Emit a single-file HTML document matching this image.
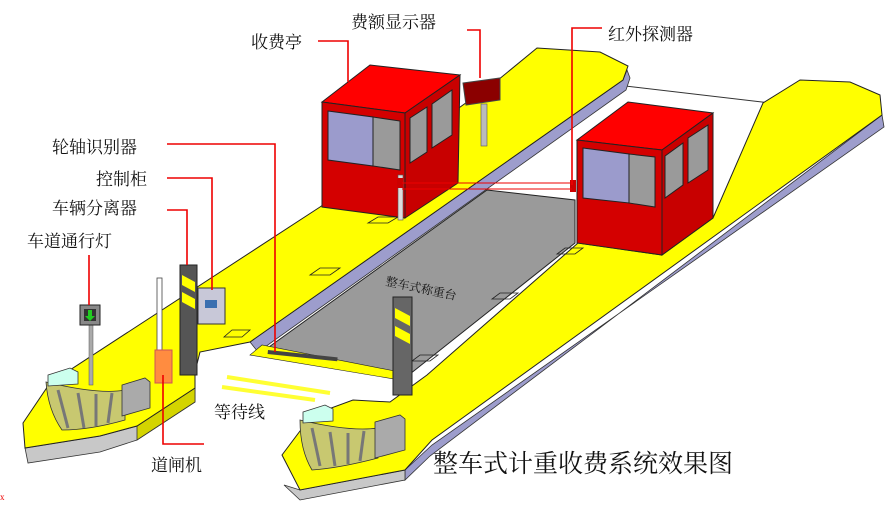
<!DOCTYPE html>
<html><head><meta charset="utf-8"><style>
html,body{margin:0;padding:0;background:#fff;}
svg{display:block}
text{font-family:"Liberation Serif","Noto Serif CJK SC","Noto Sans CJK SC",serif;fill:#111;}
</style></head><body>
<svg width="887" height="512" viewBox="0 0 887 512" xmlns="http://www.w3.org/2000/svg">
<line x1="600" y1="83" x2="770" y2="103" stroke="#333" stroke-width="1"/>
<!-- LEFT ISLAND side faces -->
<polygon points="623,80 627,70 630,78 626,90 258,352 250,342" fill="#9d9dcc" stroke="#333" stroke-width="0.8"/>
<polygon points="25,448 100,436 137,426 195,388 195,402 137,440 100,452 28,463" fill="#c8c8c8" stroke="#333" stroke-width="0.8"/>
<polygon points="137,426 195,388 195,402 137,440" fill="#d4d400" stroke="#333" stroke-width="0.8"/>
<!-- LEFT ISLAND top -->
<polygon points="23,423 50,383 320,207 498,80 537,48 600,52 628,66 623,80 250,342 200,352 195,372 195,388 137,426 100,436 25,448" fill="#ffff00" stroke="#222" stroke-width="1"/>
<!-- grey scale platform -->
<polygon points="262,352 487,190 575,200 575,243 410,374" fill="#9a9a9a" stroke="#222" stroke-width="1"/>
<polygon points="250,355 262,345 410,374 400,380" fill="#ffff00" stroke="#222" stroke-width="0.6"/>
<rect x="268" y="350" width="70" height="4" fill="#444" transform="rotate(6 268 350)"/>
<text x="385" y="285" font-size="12" fill="#222" transform="rotate(12 385 285)">整车式称重台</text>
<!-- RIGHT ISLAND side -->
<polygon points="882,115 884,127 432,445 405,470 405,480 430,456" fill="#9d9dcc" stroke="#333" stroke-width="0.8"/>
<polygon points="284,485 300,500 405,480 405,470 300,490" fill="#c8c8c8" stroke="#333" stroke-width="0.8"/>
<!-- RIGHT ISLAND top -->
<polygon points="282,455 312,415 353,400 390,402 427,375 578,243 662,255 713,218 763,103 800,80 850,82 880,95 882,115 432,440 405,470 300,490" fill="#ffff00" stroke="#222" stroke-width="1"/>
<g fill="none" stroke="#222" stroke-width="0.8">
<polygon points="378,217 398,217 388,223 368,223"/>
<polygon points="320,268 340,268 330,275 310,275"/>
<polygon points="232,330 250,330 242,337 224,337"/>
<polygon points="565,248 583,248 575,254 557,254"/>
<polygon points="500,293 518,293 510,299 492,299"/>
<polygon points="420,355 438,355 430,361 412,361"/>
</g>
<line x1="227" y1="377" x2="330" y2="393" stroke="#ffff33" stroke-width="4"/>
<line x1="222" y1="387" x2="315" y2="400" stroke="#ffff33" stroke-width="4"/>
<!-- BOOTH 1 -->
<polygon points="322,102 370,65 460,75 405,113" fill="#ff0000" stroke="#222"/>
<polygon points="322,102 405,113 405,218 322,207" fill="#d40000" stroke="#222"/>
<polygon points="405,113 460,75 458,183 405,218" fill="#c80000" stroke="#222"/>
<polygon points="328,111 373,117 373,166 328,160" fill="#9b9bcc" stroke="#222"/>
<polygon points="373,117 400,121 400,170 373,166" fill="#9a9a9a" stroke="#222"/>
<polygon points="410,118 427,107 427,152 410,163" fill="#9a9a9a" stroke="#222"/>
<polygon points="432,104 452,90 452,135 432,148" fill="#9a9a9a" stroke="#222"/>
<rect x="398" y="175" width="5" height="45" fill="#ddd" stroke="#555" stroke-width="0.6"/>
<rect x="397" y="178" width="6" height="10" fill="#c00"/>
<polygon points="463,83 500,78 500,100 466,105" fill="#8b0000" stroke="#444"/>
<rect x="481" y="104" width="6" height="42" fill="#bbb" stroke="#555" stroke-width="0.6"/>
<!-- BOOTH 2 -->
<polygon points="577,140 628,102 713,113 662,150" fill="#ff0000" stroke="#222"/>
<polygon points="577,140 662,150 662,255 577,243" fill="#d40000" stroke="#222"/>
<polygon points="662,150 713,113 713,218 662,255" fill="#c80000" stroke="#222"/>
<polygon points="583,148 629,154 629,203 583,198" fill="#9b9bcc" stroke="#222"/>
<polygon points="629,154 655,157 655,207 629,203" fill="#9a9a9a" stroke="#222"/>
<polygon points="665,156 683,143 683,185 665,198" fill="#9a9a9a" stroke="#222"/>
<polygon points="688,138 708,125 708,170 688,183" fill="#9a9a9a" stroke="#222"/>
<rect x="570" y="180" width="6" height="12" fill="#c00"/>
<!-- left separator -->
<rect x="180" y="265" width="17" height="110" fill="#555" stroke="#222"/>
<polygon points="182,275 195,282 195,292 182,285" fill="#ff0"/>
<polygon points="182,292 195,299 195,309 182,302" fill="#ff0"/>
<rect x="198" y="288" width="27" height="36" fill="#c8c8d8" stroke="#333"/>
<rect x="205" y="300" width="12" height="8" fill="#3a6fb0"/>
<rect x="89" y="325" width="4" height="60" fill="#aaa" stroke="#555" stroke-width="0.5"/>
<rect x="80" y="305" width="20" height="20" fill="#888" stroke="#222"/>
<rect x="84" y="309" width="12" height="12" fill="#333"/>
<polygon points="88,310 92,310 92,316 95,316 90,321 85,316 88,316" fill="#22cc22"/>
<rect x="157" y="278" width="5" height="72" fill="#fff" stroke="#444" stroke-width="0.8"/>
<rect x="155" y="350" width="17" height="33" fill="#ff8c40" stroke="#c55"/>
<rect x="393" y="297" width="19" height="98" fill="#666" stroke="#222"/>
<polygon points="395,308 410,316 410,326 395,318" fill="#ff0"/>
<polygon points="395,326 410,334 410,344 395,336" fill="#ff0"/>
<!-- bumpers -->
<g stroke="#333" stroke-width="0.8">
<path d="M46,382 Q100,395 125,390 L125,420 Q90,430 62,430 Q48,410 46,382 Z" fill="#c8c870"/>
<polygon points="48,375 70,368 78,372 78,384 48,386" fill="#cfe"/>
<polygon points="122,385 145,378 150,382 150,408 122,416" fill="#aaa"/>
<path d="M300,420 Q350,432 378,428 L378,458 Q340,468 312,470 Q300,450 300,420 Z" fill="#c8c870"/>
<polygon points="303,412 325,405 333,409 333,421 303,423" fill="#cfe"/>
<polygon points="375,422 400,415 405,419 405,450 375,458" fill="#aaa"/>
</g>
<g stroke="#777" stroke-width="3">
<line x1="58" y1="390" x2="68" y2="428"/><line x1="78" y1="393" x2="84" y2="428"/><line x1="96" y1="394" x2="96" y2="426"/><line x1="112" y1="393" x2="108" y2="423"/>
<line x1="312" y1="428" x2="320" y2="466"/><line x1="330" y1="432" x2="335" y2="466"/><line x1="348" y1="433" x2="348" y2="464"/><line x1="364" y1="431" x2="360" y2="461"/>
</g>
<g stroke="#e00" stroke-width="1.6" fill="none">
<polyline points="318,41 348,41 348,82"/>
<polyline points="467,30 480,30 480,78"/>
<polyline points="602,28 572,28 572,185"/>
<line x1="402" y1="183" x2="570" y2="183" stroke-width="1"/>
<line x1="402" y1="189" x2="572" y2="189" stroke-width="1"/>
<polyline points="167,144 275,144 275,352"/>
<polyline points="167,178 212,178 212,290"/>
<polyline points="167,210 187,210 187,265"/>
<line x1="89" y1="255" x2="89" y2="305"/>
<polyline points="204,444 163,444 163,375"/>
</g>
<g font-size="17">
<text x="251" y="48">收费亭</text>
<text x="351" y="28">费额显示器</text>
<text x="608" y="40">红外探测器</text>
<text x="52" y="153">轮轴识别器</text>
<text x="96" y="185">控制柜</text>
<text x="52" y="214">车辆分离器</text>
<text x="27" y="247">车道通行灯</text>
<text x="214" y="418">等待线</text>
<text x="151" y="471">道闸机</text>
</g>
<text x="433" y="472" font-size="25">整车式计重收费系统效果图</text>
<text x="0" y="500" font-size="9" style="fill:#e00">x</text>
</svg>
</body></html>
